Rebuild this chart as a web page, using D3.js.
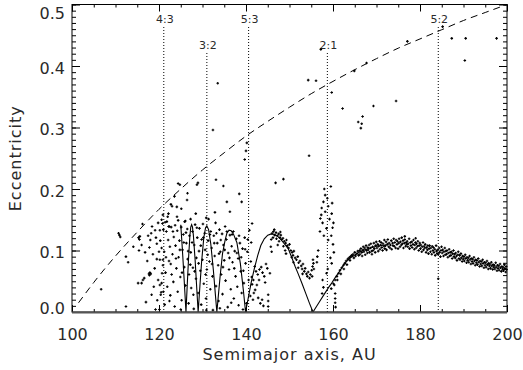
<!DOCTYPE html>
<html>
<head>
<meta charset="utf-8">
<script src="https://cdn.jsdelivr.net/npm/d3@7"></script>
<style>
  body { margin: 0; background: #fff; }
  text { font-family: "DejaVu Sans", sans-serif; fill: #2a2a2a; }
</style>
</head>
<body>
<div id="chart"></div>
<script>
// axis ticks
const xTickValues = [100, 120, 140, 160, 180, 200];
const yTickValues = [0.0, 0.1, 0.2, 0.3, 0.4, 0.5];

// mean-motion resonances (semimajor axis, AU)
const resonanceNames = ['4:3', '3:2', '5:3', '2:1', '5:2'];
const resonanceAxes = [121.1, 131.0, 140.6, 158.7, 184.2];

// dashed curve: fixed perihelion boundary
const boundaryA = [101.5, 105, 110, 115, 120, 125, 130, 135, 140, 145, 150, 155, 160, 165, 170, 175, 180, 185, 190, 195, 200];
const boundaryE = [0.015, 0.048, 0.091, 0.130, 0.167, 0.200, 0.231, 0.259, 0.286, 0.310, 0.333, 0.355, 0.375, 0.394, 0.412, 0.429, 0.444, 0.459, 0.474, 0.487, 0.500];

// solid curve: stability arches
const archPoints = [
  [125.0, 0.142], [125.3, 0.110], [125.6, 0.075], [125.9, 0.038], [126.2, 0],
  [126.5, 0.045], [126.8, 0.088], [127.1, 0.124], [127.3, 0.138], [127.5, 0.142], [127.7, 0.138], [127.9, 0.125], [128.3, 0.085], [128.6, 0.048], [129.0, 0],
  [129.4, 0.042], [129.8, 0.082], [130.3, 0.121], [130.7, 0.137], [131.0, 0.140], [131.4, 0.134], [131.9, 0.111], [132.5, 0.068], [133.0, 0.025], [133.3, 0],
  [134.05, 0.058], [134.6, 0.095], [135.2, 0.117], [135.6, 0.128], [136.1, 0.133], [136.6, 0.132], [137.1, 0.127], [137.9, 0.113], [138.7, 0.079], [139.4, 0.035], [139.9, 0],
  [140.5, 0.022], [141.2, 0.048], [141.9, 0.070], [142.7, 0.092], [143.4, 0.108], [144.2, 0.119], [145.0, 0.125], [145.8, 0.127], [146.6, 0.126],
  [147.3, 0.123], [148.0, 0.118], [148.8, 0.111], [149.7, 0.103], [150.5, 0.089], [151.3, 0.074], [152.0, 0.062], [152.9, 0.046], [153.8, 0.029], [154.6, 0.014], [155.4, 0],
  [156.2, 0.009], [157.0, 0.018], [158.0, 0.029], [159.0, 0.040], [159.7, 0.047], [160.5, 0.056], [161.5, 0.066], [162.4, 0.076], [163.3, 0.084],
  [164.2, 0.089], [165.1, 0.093], [166.5, 0.099], [168.0, 0.103], [170.0, 0.107], [172.0, 0.109]
];

// particles inside 4:3
const fringeDots = [
  [106.7, 0.037], [110.9, 0.125], [111.1, 0.122], [110.7, 0.128], [112.4, 0.090], [112.9, 0.081], [112.4, 0.009],
  [114.1, 0.106], [115.2, 0.047], [115.4, 0.100], [115.3, 0.121], [115.6, 0.123], [115.5, 0.118], [116.2, 0.143],
  [116.0, 0.109], [116.6, 0.055], [117.8, 0.060], [118.1, 0.062], [118.0, 0.117], [117.8, 0.105], [118.2, 0.128],
  [119.1, 0.133], [119.5, 0.111], [119.5, 0.086], [120.2, 0.133], [120.2, 0.085], [120.5, 0.032], [120.6, 0.047],
  [120.4, 0.028], [121.0, 0.134], [120.6, 0.150], [120.8, 0.144], [120.6, 0.104], [120.9, 0.085], [120.9, 0.076],
  [120.2, 0.044], [121.0, 0.033], [120.1, 0.004], [116.0, 0.047], [116.3, 0.052], [117.9, 0.064], [117.7, 0.062],
  [124.4, 0.209], [124.8, 0.207], [121.8, 0.147], [122.4, 0.139],
  [118.6, 0.094], [119.0, 0.071], [119.3, 0.121], [119.8, 0.052], [120.0, 0.098], [120.3, 0.116], [119.6, 0.019],
  [118.8, 0.041], [117.3, 0.083], [116.8, 0.097], [117.5, 0.124], [118.4, 0.139], [119.8, 0.145], [117.0, 0.016],
  [119.2, 0.004], [120.7, 0.063], [118.3, 0.028], [120.9, 0.158]
];

// particles between 4:3 and 5:3
const resonantDots = [
  [121.3, 0.012], [121.5, 0.064], [121.2, 0.098], [121.7, 0.131], [121.4, 0.146], [121.9, 0.041], [122.1, 0.117],
  [122.3, 0.083], [122.0, 0.155], [122.6, 0.027], [122.5, 0.106], [122.8, 0.138], [122.9, 0.061], [123.1, 0.094],
  [123.0, 0.172], [123.4, 0.122], [123.3, 0.049], [123.6, 0.009], [123.8, 0.108], [123.7, 0.141], [124.0, 0.071],
  [124.2, 0.132], [124.3, 0.033], [124.5, 0.089], [124.7, 0.116], [124.9, 0.057], [125.1, 0.138], [125.2, 0.019],
  [125.4, 0.101], [125.6, 0.126], [125.8, 0.073], [125.9, 0.147], [126.1, 0.043], [126.3, 0.112], [126.6, 0.086],
  [126.5, 0.135], [126.8, 0.014], [126.9, 0.061], [127.0, 0.124], [127.3, 0.097], [127.4, 0.039], [127.7, 0.131],
  [127.8, 0.072], [128.0, 0.005], [128.1, 0.109], [128.3, 0.142], [128.5, 0.054], [128.6, 0.088], [128.8, 0.121],
  [129.0, 0.031], [129.2, 0.099], [129.3, 0.136], [129.5, 0.067], [129.7, 0.012], [129.8, 0.118], [130.0, 0.085],
  [130.1, 0.143], [130.3, 0.046], [130.5, 0.128], [130.6, 0.101], [130.8, 0.022], [131.0, 0.069], [131.3, 0.116],
  [131.4, 0.151], [131.6, 0.082], [131.8, 0.037], [131.9, 0.131], [132.1, 0.104], [132.3, 0.058], [132.4, 0.003],
  [132.6, 0.124], [132.8, 0.091], [133.0, 0.145], [133.1, 0.042], [133.4, 0.112], [133.6, 0.076], [133.7, 0.018],
  [133.9, 0.134], [134.1, 0.098], [134.3, 0.061], [134.5, 0.127], [134.6, 0.029], [134.8, 0.109], [135.0, 0.084],
  [135.2, 0.139], [135.3, 0.051], [135.5, 0.118], [135.8, 0.008], [135.9, 0.096], [136.1, 0.069], [136.3, 0.125],
  [136.5, 0.037], [136.7, 0.107], [136.9, 0.081], [137.1, 0.131], [137.2, 0.022], [137.4, 0.099], [137.6, 0.058],
  [137.8, 0.119], [138.0, 0.041], [138.2, 0.087], [138.3, 0.011], [138.6, 0.112], [138.8, 0.066], [139.0, 0.031],
  [139.2, 0.103], [139.5, 0.047], [139.7, 0.121], [139.9, 0.079], [140.1, 0.014], [140.3, 0.098], [140.6, 0.052],
  [140.8, 0.133], [141.0, 0.026], [141.2, 0.113], [141.4, 0.144],
  [121.6, 0.089], [122.2, 0.139], [122.7, 0.078], [123.2, 0.131], [123.9, 0.087], [124.4, 0.149], [124.8, 0.101],
  [125.3, 0.064], [125.7, 0.113], [126.2, 0.129], [126.7, 0.099], [127.2, 0.077], [127.6, 0.113], [128.2, 0.066],
  [128.7, 0.137], [129.1, 0.079], [129.6, 0.108], [130.2, 0.121], [130.7, 0.061], [131.2, 0.093], [131.7, 0.126],
  [132.2, 0.078], [132.7, 0.112], [133.2, 0.128], [133.8, 0.095], [134.2, 0.117], [134.7, 0.073], [135.1, 0.101],
  [135.6, 0.131], [136.2, 0.088], [136.8, 0.126], [137.3, 0.071], [137.9, 0.096], [138.4, 0.124], [138.9, 0.089],
  [139.4, 0.067], [139.8, 0.102], [140.4, 0.118], [141.1, 0.082], [122.4, 0.018], [125.0, 0.004], [127.9, 0.028],
  [130.9, 0.003], [134.0, 0.006], [136.6, 0.015], [139.3, 0.004],
  [122.74, 0.175], [123.55, 0.188], [124.10, 0.171], [125.13, 0.168], [126.45, 0.182], [126.55, 0.193],
  [128.72, 0.207], [128.95, 0.210], [130.86, 0.153], [132.86, 0.162], [135.60, 0.179], [136.30, 0.163],
  [138.45, 0.192], [139.00, 0.179], [128.45, 0.160], [127.26, 0.151], [126.08, 0.148], [122.17, 0.160],
  [124.14, 0.155]
];

// particles between 5:3 and 2:1
const arcDots = [
  [141.3, 0.057], [141.7, 0.052], [142.0, 0.074], [142.3, 0.066], [142.7, 0.061], [143.1, 0.069], [143.5, 0.073],
  [143.8, 0.064], [144.2, 0.058], [144.4, 0.048], [142.5, 0.044], [142.1, 0.036], [141.8, 0.031], [143.0, 0.052],
  [145.5, 0.063], [145.1, 0.028], [145.1, 0.018], [145.1, 0.009], [145.9, 0.098], [145.7, 0.106], [141.4, 0.045],
  [141.6, 0.020], [143.7, 0.020], [144.0, 0.010], [144.6, 0.078], [144.9, 0.071], [142.8, 0.023], [143.3, 0.014],
  [146.0, 0.128], [146.3, 0.131], [146.6, 0.125], [146.9, 0.129], [147.2, 0.124], [147.5, 0.127], [147.8, 0.121],
  [146.5, 0.134], [147.0, 0.119], [148.0, 0.125], [148.2, 0.118], [148.5, 0.120], [148.8, 0.115], [149.1, 0.112],
  [149.3, 0.117], [149.5, 0.108], [149.8, 0.104], [150.0, 0.110], [150.3, 0.100], [150.6, 0.097], [150.8, 0.092],
  [151.0, 0.099], [151.3, 0.088], [151.6, 0.085], [151.9, 0.090], [152.1, 0.080], [152.4, 0.083], [152.7, 0.075],
  [152.9, 0.070], [153.1, 0.078], [153.4, 0.066], [153.6, 0.071], [153.9, 0.062], [154.1, 0.058], [154.3, 0.065],
  [154.6, 0.055], [154.8, 0.061], [155.1, 0.068], [155.3, 0.074], [155.5, 0.079], [155.4, 0.085], [155.6, 0.070],
  [155.2, 0.058], [147.3, 0.109], [147.6, 0.115], [148.6, 0.107], [149.0, 0.100], [150.5, 0.089], [152.0, 0.072],
  [153.0, 0.062], [146.2, 0.121], [145.8, 0.118], [147.9, 0.130], [149.2, 0.095], [150.9, 0.081]
];

// particles at the 2:1 resonance and along the rising arch
const twoOneDots = [
  [159.5, 0.204], [158.2, 0.190], [159.8, 0.177], [157.8, 0.179], [157.4, 0.169], [158.2, 0.163], [159.7, 0.160],
  [157.1, 0.152], [157.6, 0.145], [157.0, 0.131], [158.5, 0.136], [159.9, 0.137], [158.9, 0.117], [160.0, 0.110],
  [159.6, 0.124], [160.2, 0.097], [159.7, 0.079], [158.5, 0.063], [157.5, 0.030], [157.8, 0.040], [160.5, 0.030],
  [160.5, 0.022], [160.5, 0.015], [160.6, 0.008], [156.6, 0.100], [156.4, 0.090], [156.3, 0.081], [158.0, 0.200],
  [157.3, 0.158], [159.2, 0.151], [158.7, 0.185], [160.1, 0.145], [157.9, 0.124], [159.4, 0.088], [158.8, 0.070],
  [160.3, 0.044], [157.6, 0.052], [158.9, 0.172],
  [159.6, 0.038], [160.1, 0.046], [160.5, 0.052], [160.9, 0.058], [161.3, 0.063], [161.6, 0.068], [162.0, 0.072],
  [162.4, 0.076], [162.7, 0.079], [163.0, 0.083], [163.4, 0.086], [163.7, 0.088], [164.0, 0.090], [164.3, 0.092],
  [161.0, 0.052], [161.8, 0.062], [162.5, 0.070], [163.2, 0.077], [163.9, 0.084]
];

// stable belt beyond 2:1
const bandDots = [
  [164.6, 0.094], [164.8, 0.088], [165.0, 0.097], [165.2, 0.091], [165.5, 0.095], [165.7, 0.099], [165.9, 0.092],
  [166.1, 0.100], [166.2, 0.094], [166.4, 0.103], [166.6, 0.097], [166.7, 0.091], [166.9, 0.101], [166.95, 0.106],
  [167.1, 0.098], [167.3, 0.104], [167.4, 0.093], [167.6, 0.108], [167.7, 0.100], [167.9, 0.096], [168.0, 0.105],
  [168.1, 0.101], [168.3, 0.109], [168.4, 0.097], [168.6, 0.104], [168.7, 0.111], [168.9, 0.099], [168.95, 0.094],
  [169.1, 0.106], [169.2, 0.100], [169.4, 0.112], [169.5, 0.103], [169.7, 0.097], [169.8, 0.108], [169.95, 0.114],
  [170.1, 0.104], [170.3, 0.110], [170.4, 0.099], [170.5, 0.107], [170.7, 0.115], [170.8, 0.102], [170.95, 0.109],
  [171.1, 0.113], [171.2, 0.105], [171.4, 0.100], [171.5, 0.111], [171.7, 0.107], [171.8, 0.117], [171.9, 0.103],
  [172.05, 0.108], [172.2, 0.114], [172.3, 0.101], [172.5, 0.110], [172.6, 0.118], [172.8, 0.106], [172.9, 0.112],
  [173.1, 0.104], [173.2, 0.109], [173.4, 0.116], [173.5, 0.102], [173.7, 0.112], [173.8, 0.108], [173.95, 0.119],
  [174.1, 0.107], [174.2, 0.113], [174.4, 0.104], [174.5, 0.117], [174.7, 0.110], [174.8, 0.115], [174.95, 0.103],
  [175.1, 0.112], [175.2, 0.119], [175.4, 0.106], [175.5, 0.114], [175.7, 0.109], [175.8, 0.121], [175.95, 0.111],
  [176.1, 0.116], [176.2, 0.104], [176.4, 0.112], [176.5, 0.118], [176.7, 0.107], [176.8, 0.113], [176.95, 0.110],
  [177.05, 0.115], [177.2, 0.106], [177.3, 0.111], [177.5, 0.119], [177.6, 0.103], [177.8, 0.113], [177.9, 0.108],
  [178.1, 0.114], [178.2, 0.105], [178.4, 0.110], [178.5, 0.117], [178.7, 0.102], [178.8, 0.109], [178.95, 0.113],
  [179.1, 0.104], [179.2, 0.111], [179.4, 0.107], [179.5, 0.115], [179.7, 0.100], [179.8, 0.108], [179.95, 0.112],
  [180.1, 0.103], [180.2, 0.109], [180.4, 0.098], [180.5, 0.106], [180.7, 0.113], [180.8, 0.101], [180.95, 0.107],
  [181.1, 0.104], [181.2, 0.110], [181.4, 0.097], [181.5, 0.105], [181.7, 0.101], [181.8, 0.108], [181.95, 0.095],
  [182.1, 0.103], [182.2, 0.108], [182.4, 0.098], [182.5, 0.104], [182.7, 0.094], [182.8, 0.107], [182.95, 0.100],
  [183.1, 0.105], [183.2, 0.097], [183.4, 0.102], [183.5, 0.092], [183.7, 0.108], [183.8, 0.099], [183.95, 0.095],
  [184.1, 0.101], [184.2, 0.094], [184.4, 0.104], [184.5, 0.097], [184.7, 0.090], [184.8, 0.100], [184.95, 0.106],
  [185.1, 0.096], [185.2, 0.101], [185.4, 0.091], [185.5, 0.098], [185.7, 0.104], [185.8, 0.093], [185.95, 0.099],
  [186.1, 0.094], [186.2, 0.100], [186.4, 0.089], [186.5, 0.096], [186.7, 0.102], [186.8, 0.091], [186.95, 0.097],
  [187.1, 0.092], [187.2, 0.098], [187.4, 0.087], [187.5, 0.095], [187.7, 0.100], [187.8, 0.090], [187.95, 0.094],
  [188.1, 0.088], [188.2, 0.096], [188.4, 0.091], [188.5, 0.084], [188.7, 0.093], [188.8, 0.098], [188.95, 0.087],
  [189.1, 0.092], [189.2, 0.085], [189.4, 0.095], [189.5, 0.088], [189.7, 0.082], [189.8, 0.091], [189.95, 0.086],
  [190.1, 0.090], [190.2, 0.083], [190.4, 0.093], [190.5, 0.087], [190.7, 0.080], [190.8, 0.089], [190.95, 0.084],
  [191.1, 0.088], [191.2, 0.081], [191.4, 0.091], [191.5, 0.085], [191.7, 0.078], [191.8, 0.087], [191.95, 0.082],
  [192.1, 0.086], [192.2, 0.079], [192.4, 0.089], [192.5, 0.083], [192.7, 0.076], [192.8, 0.085], [192.95, 0.080],
  [193.1, 0.084], [193.2, 0.077], [193.4, 0.087], [193.5, 0.081], [193.7, 0.074], [193.8, 0.083], [193.95, 0.078],
  [194.1, 0.082], [194.2, 0.075], [194.4, 0.085], [194.5, 0.079], [194.7, 0.072], [194.8, 0.081], [194.95, 0.076],
  [195.1, 0.080], [195.2, 0.073], [195.4, 0.083], [195.5, 0.077], [195.7, 0.070], [195.8, 0.079], [195.95, 0.075],
  [196.1, 0.078], [196.2, 0.071], [196.4, 0.081], [196.5, 0.075], [196.7, 0.069], [196.8, 0.077], [196.95, 0.073],
  [197.1, 0.076], [197.2, 0.070], [197.4, 0.080], [197.5, 0.073], [197.7, 0.067], [197.8, 0.076], [197.95, 0.071],
  [198.1, 0.075], [198.2, 0.068], [198.4, 0.078], [198.5, 0.072], [198.7, 0.066], [198.8, 0.074], [198.95, 0.070],
  [199.1, 0.073], [199.2, 0.067], [199.4, 0.077], [199.5, 0.071], [199.7, 0.065], [199.8, 0.074], [199.9, 0.069],
  [184.2, 0.054], [176.5, 0.123], [179.0, 0.120]
];

// excited, scattered particles
const scatteredDots = [
  [154.3, 0.377], [156.1, 0.376], [157.2, 0.427], [159.7, 0.357], [162.2, 0.331], [164.9, 0.392], [167.7, 0.405],
  [165.8, 0.309], [166.8, 0.318], [166.4, 0.299], [166.6, 0.306], [169.3, 0.335], [174.5, 0.343], [177.1, 0.440],
  [185.2, 0.464], [187.3, 0.445], [190.5, 0.445], [190.3, 0.409], [197.6, 0.445], [133.5, 0.372], [132.4, 0.296],
  [146.8, 0.210], [148.6, 0.216], [154.5, 0.254], [140.2, 0.275], [140.0, 0.262], [139.7, 0.248], [134.8, 0.205],
  [133.1, 0.215]
];

const allDots = [].concat(fringeDots, resonantDots, arcDots, twoOneDots, bandDots, scatteredDots);

const W = 523, H = 370;
const margin = { top: 4.5, right: 16, bottom: 58, left: 72 };
const width = W - margin.left - margin.right;
const height = H - margin.top - margin.bottom;

const svg = d3.select('#chart').append('svg')
  .attr('width', W)
  .attr('height', H);

const x = d3.scaleLinear().domain([100, 200]).range([margin.left, margin.left + width]);
const y = d3.scaleLinear().domain([0, 0.5]).range([margin.top + height, margin.top]);

const xMinor = d3.range(100, 200.001, 5);
const yMinor = d3.range(0, 0.5001, 0.01);

// resonance markers
const resRow = i => (i % 2 === 0 ? 0 : 1);
svg.append('g').selectAll('line')
  .data(resonanceAxes)
  .join('line')
  .attr('x1', d => x(d)).attr('x2', d => x(d))
  .attr('y1', (d, i) => resRow(i) ? 53 : 27)
  .attr('y2', y(0))
  .attr('stroke', '#000')
  .attr('stroke-width', 1)
  .attr('stroke-dasharray', '1,2');

svg.append('g').selectAll('text')
  .data(resonanceNames)
  .join('text')
  .attr('x', (d, i) => x(resonanceAxes[i]) + 1)
  .attr('y', (d, i) => resRow(i) ? 49 : 23)
  .attr('text-anchor', 'middle')
  .style('font-size', '11px')
  .text(d => d);

// perihelion boundary (dashed)
const boundary = boundaryA.map((a, i) => [a, boundaryE[i]]);
svg.append('path')
  .datum(boundary)
  .attr('fill', 'none')
  .attr('stroke', '#000')
  .attr('stroke-width', 1)
  .attr('stroke-dasharray', '7,5')
  .attr('d', d3.line().x(d => x(d[0])).y(d => y(d[1])).curve(d3.curveMonotoneX));

// stability arches
svg.append('path')
  .datum(archPoints)
  .attr('fill', 'none')
  .attr('stroke', '#000')
  .attr('stroke-width', 1.1)
  .attr('d', d3.line().x(d => x(d[0])).y(d => y(d[1])));

// particles
svg.append('g').selectAll('path')
  .data(allDots)
  .join('path')
  .attr('transform', d => `translate(${x(d[0])},${y(d[1])})`)
  .attr('d', 'M-1.3,0H1.3M0,-1.3V1.3')
  .attr('stroke', '#000')
  .attr('stroke-width', 1.1);

// axes: ticks on all four sides, pointing inward
function minorAxis(axis, scale, vals, size) {
  return axis(scale).tickValues(vals).tickSize(size).tickFormat('');
}
const atBottom = `translate(0,${y(0)})`, atTop = `translate(0,${y(0.5)})`;
const atLeft = `translate(${x(100)},0)`, atRight = `translate(${x(200)},0)`;

svg.append('g').attr('transform', atBottom).call(minorAxis(d3.axisBottom, x, xMinor, -3));
svg.append('g').attr('transform', atTop).call(minorAxis(d3.axisTop, x, xMinor, -3));
svg.append('g').attr('transform', atLeft).call(minorAxis(d3.axisLeft, y, yMinor, -4));
svg.append('g').attr('transform', atRight).call(minorAxis(d3.axisRight, y, yMinor, -4));
svg.append('g').attr('transform', atTop).call(d3.axisTop(x).tickValues(xTickValues).tickSize(-7).tickFormat(''));
svg.append('g').attr('transform', atRight).call(d3.axisRight(y).tickValues(yTickValues).tickSize(-8).tickFormat(''));

const xAxis = svg.append('g').attr('class', 'axis axis-x')
  .attr('transform', atBottom)
  .call(d3.axisBottom(x).tickValues(xTickValues).tickSize(-7).tickFormat(d3.format('d')));
xAxis.selectAll('text')
  .attr('y', 28).attr('dy', null)
  .style('font-size', '16px');

const yAxis = svg.append('g').attr('class', 'axis axis-y')
  .attr('transform', atLeft)
  .call(d3.axisLeft(y).tickValues(yTickValues).tickSize(-8).tickFormat(d3.format('.1f')));
yAxis.selectAll('text')
  .attr('x', -7).attr('dy', null)
  .attr('y', d => d === 0 ? 1.3 : (d === 0.5 ? 13.8 : 7))
  .style('font-size', '16px');

svg.selectAll('.domain').remove();
svg.selectAll('.tick line').attr('stroke', '#000');
svg.selectAll('.tick text').attr('fill', '#2a2a2a');

// frame
svg.append('rect')
  .attr('x', x(100)).attr('y', y(0.5))
  .attr('width', x(200) - x(100)).attr('height', y(0) - y(0.5))
  .attr('fill', 'none').attr('stroke', '#000').attr('stroke-width', 1);
svg.append('line')
  .attr('x1', x(100)).attr('x2', x(200))
  .attr('y1', y(0) + 0.5).attr('y2', y(0) + 0.5)
  .attr('stroke', '#555').attr('stroke-width', 2);

// titles
svg.append('text')
  .attr('x', (x(100) + x(200)) / 2)
  .attr('y', 360)
  .attr('text-anchor', 'middle')
  .style('font-size', '16px')
  .style('letter-spacing', '1px')
  .text('Semimajor axis, AU');

svg.append('text')
  .attr('transform', `translate(21,${(y(0) + y(0.5)) / 2}) rotate(-90)`)
  .attr('text-anchor', 'middle')
  .style('font-size', '16px')
  .style('letter-spacing', '1px')
  .text('Eccentricity');
</script>
</body>
</html>
